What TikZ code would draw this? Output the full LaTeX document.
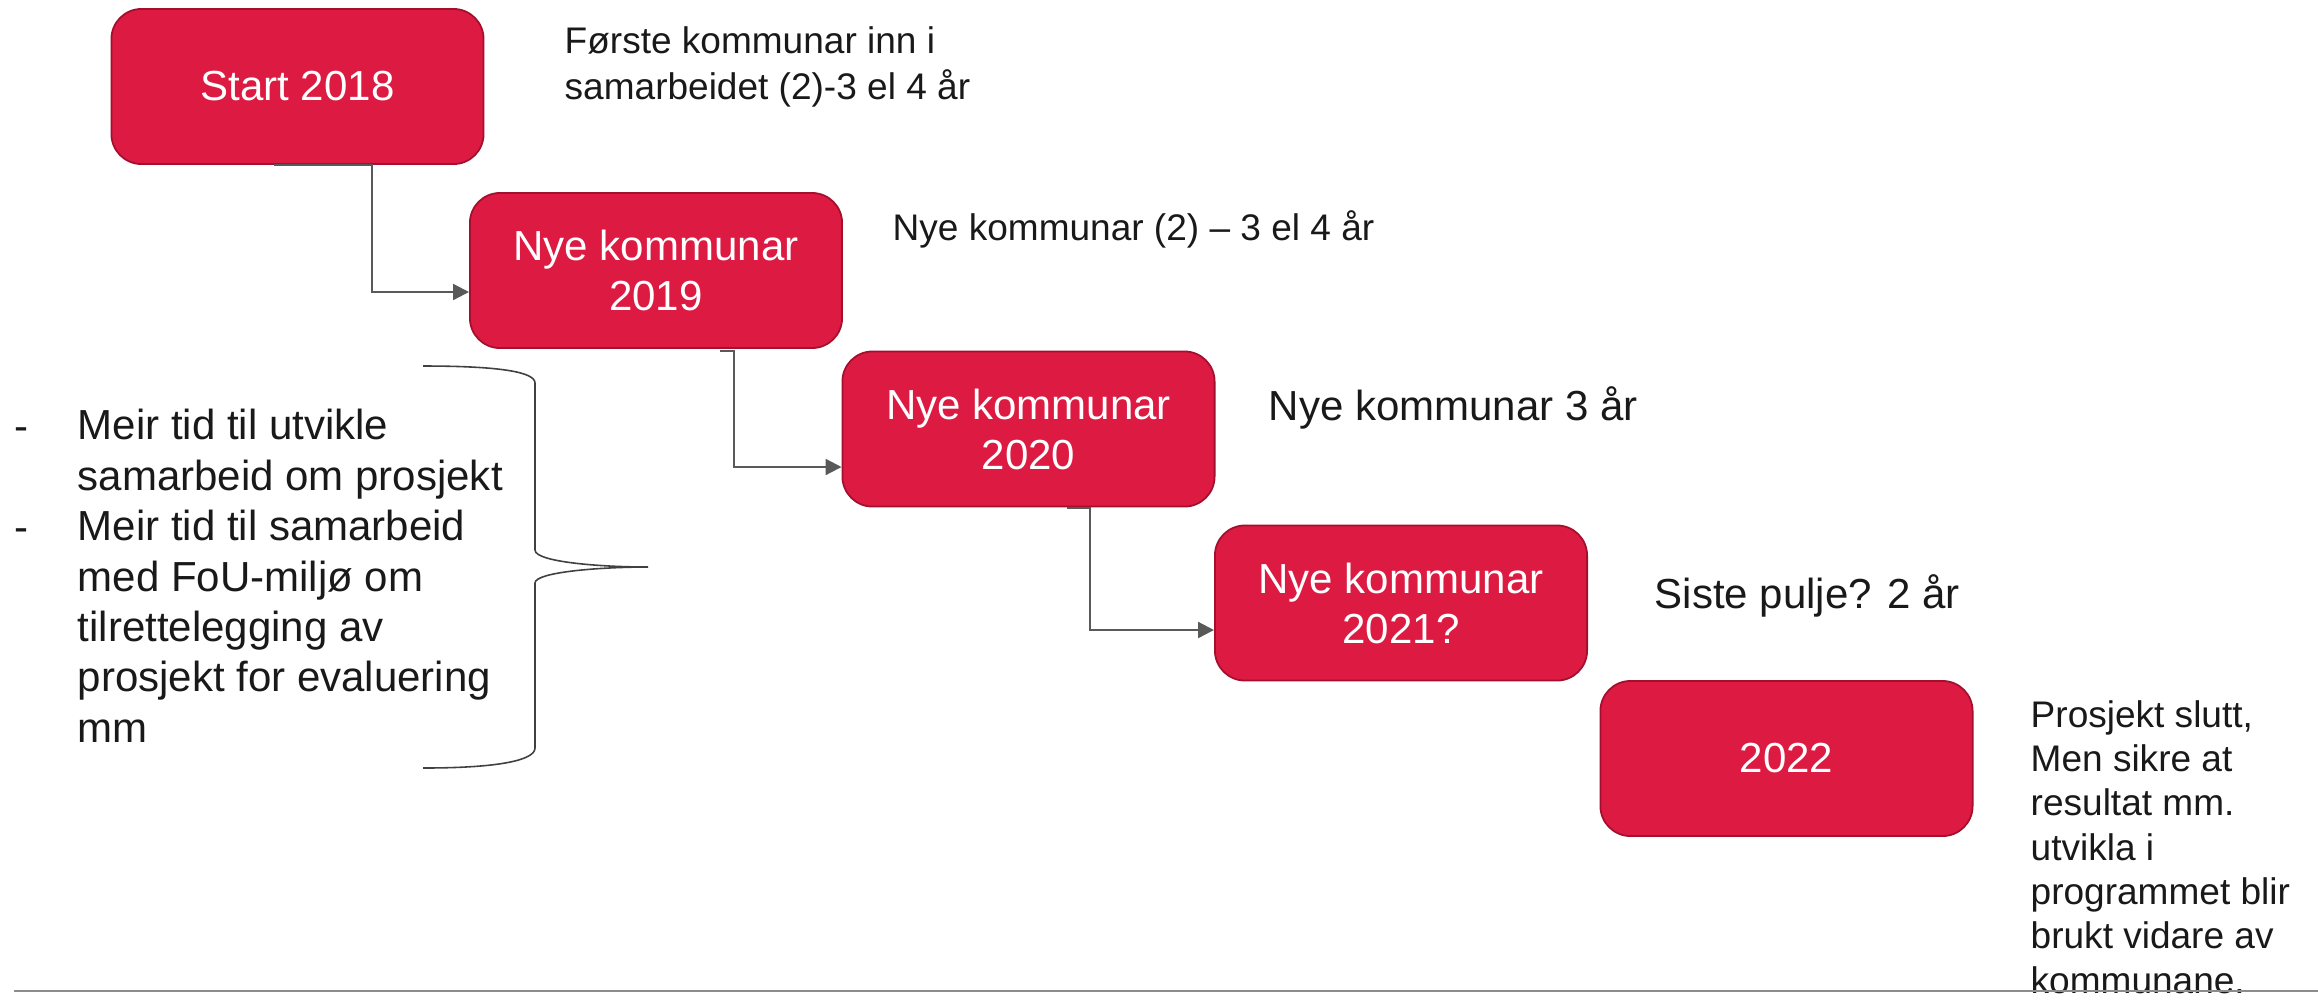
\documentclass[tikz,border=0pt]{standalone}
\usepackage{fontspec}
\setmainfont{Liberation Sans}
\usetikzlibrary{arrows.meta}
\definecolor{boxred}{HTML}{DC1A42}
\definecolor{boxedge}{HTML}{A50F2E}
\definecolor{linegray}{HTML}{595959}

\begin{document}
\begin{tikzpicture}[x=0.01cm,y=-0.01cm,
	box/.style={draw=boxedge, line width=0.5pt, fill=boxred, rounded corners=0.3cm,
		minimum width=3.72cm, minimum height=1.55cm, inner sep=0pt, align=center,
		text=white, font=\fontsize{11.95}{14.23}\selectfont},
	note/.style={anchor=base west, inner sep=0pt, align=left, text=black!90,
		font=\fontsize{10.53}{12.8}\selectfont},
	bignote/.style={note, font=\fontsize{11.95}{14.3}\selectfont},
	conn/.style={draw=linegray, line width=0.6pt, -{Triangle[length=4.5pt,width=4.5pt]}}]
			\useasboundingbox (0,0) rectangle (2318,999);
			\node[box] (1) at (297.5,86.5) {Start 2018};
			\node[box] (2) at (656,270.5) {Nye kommunar\\2019};
			\node[box] (3) at (1028.5,429) {Nye kommunar\\2020};
			\node[box] (4) at (1401,603) {Nye kommunar\\2021?};
			\node[box] (5) at (1786.5,758.5) {2022};
			\coordinate (k1) at (372,292);
			\coordinate (k2) at (734,467);
			\coordinate (k3) at (1090,630);
			\draw[conn] (1.south) ++(-24,0) -| (k1) -- (k1 -| 2.west);
			\draw[conn] (2.south) ++(64,2) -| (k2) -- (k2 -| 3.west);
			\draw[conn] (3.south) ++(38,1) -| (k3) -- (k3 -| 4.west);
			\node[note] (n1) at (564,99) {Første kommunar inn i\\samarbeidet (2)-3 el 4 år};
			\node[note] (n2) at (892,240) {Nye kommunar (2) – 3 el 4 år};
			\node[bignote] (n3) at (1268,420) {Nye kommunar 3 år};
			\node[bignote] (n4) at (1654,608) {Siste pulje? 2 år};
			\node[note, font=\fontsize{10.53}{12.6}\selectfont] (n5) at (2030,993)
				{Prosjekt slutt,\\Men sikre at\\resultat mm.\\utvikla i\\programmet blir\\brukt vidare av\\kommunane.};
			\node[bignote] (d1) at (14,440) {-};
			\node[bignote] (d2) at (14,541) {-};
			\node[bignote] (m1) at (77,490) {Meir tid til utvikle\\samarbeid om prosjekt};
			\node[bignote] (m2) at (77,742) {Meir tid til samarbeid\\med FoU-miljø om\\tilrettelegging av\\prosjekt for evaluering\\mm};
			\draw[black!75, line width=0.45pt] (423,366) .. controls (500,366) and (535,372) .. (535,383)
				-- (535,550) .. controls (535,562) and (600,567) .. (648,567)
				.. controls (600,567) and (535,572) .. (535,583)
				-- (535,748) .. controls (535,760) and (500,768) .. (423,768);
			\draw[black!45, line width=0.6pt] (14,991) -- (2318,991);
		\end{tikzpicture}
\end{document}
